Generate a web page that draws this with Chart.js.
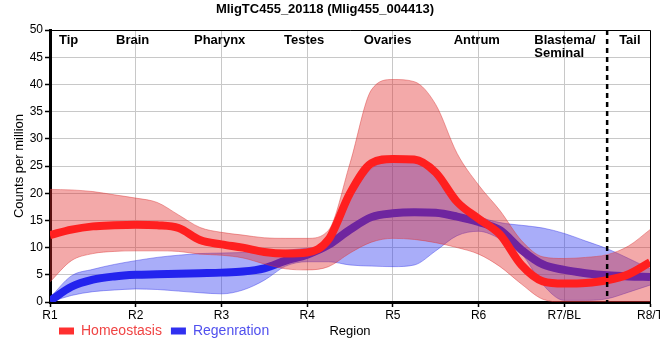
<!DOCTYPE html>
<html>
<head>
<meta charset="utf-8">
<script src="https://cdn.jsdelivr.net/npm/chart.js@4.4.1/dist/chart.umd.min.js"></script>
<style>
  html, body { margin: 0; padding: 0; background: #fff; overflow: hidden; }
  #wrap { width: 680px; height: 360px; }
</style>
</head>
<body>
<div id="wrap"><canvas id="chart"></canvas></div>
<script>
// readings taken every quarter region along the body axis (R1 = 1 ... R8/T = 8)
const positions = [1, 1.25, 1.5, 1.75, 2, 2.25, 2.5, 2.75, 3, 3.25, 3.5, 3.75, 4, 4.25, 4.5,
  4.75, 5, 5.25, 5.5, 5.75, 6, 6.25, 6.5, 6.75, 7, 7.25, 7.5, 7.75, 8];

const regionTicks = ["R1", "R2", "R3", "R4", "R5", "R6", "R7/BL", "R8/T"];

const homMean = [12.3, 13.3, 13.9, 14.1, 14.2, 14.1, 13.6, 11.4, 10.6, 10.0, 9.2, 8.9, 9.1, 11.5, 20.0,
  25.5, 26.3, 26.2, 23.8, 18.4, 15.3, 12.4, 6.8, 3.8, 3.4, 3.5, 4.0, 5.1, 7.3];
const homHigh = [20.7, 20.6, 20.3, 19.7, 19.1, 18.3, 16.0, 13.7, 12.8, 12.3, 11.8, 11.7, 11.7, 13.2, 25.5,
  39.0, 40.9, 40.5, 36.3, 27.3, 21.5, 16.8, 11.3, 8.3, 8.0, 8.2, 8.7, 10.3, 13.3];
const homLow = [3.7, 7.6, 8.9, 9.3, 9.4, 9.4, 9.3, 8.8, 8.6, 8.1, 7.0, 6.1, 5.9, 6.5, 9.0,
  11.0, 11.7, 11.5, 10.9, 10.0, 8.8, 6.5, 3.3, 0.5, 0, 0, 0, 0, 0];

const regMean = [0.2, 2.8, 4.1, 4.7, 5.0, 5.1, 5.2, 5.3, 5.4, 5.6, 6.2, 7.6, 8.7, 10.5, 13.3,
  15.6, 16.3, 16.5, 16.4, 15.7, 14.7, 13.2, 9.6, 6.9, 5.9, 5.3, 4.9, 4.7, 4.6];
const regHigh = [0.8, 4.8, 6.0, 6.9, 7.6, 8.2, 8.6, 8.9, 9.0, 9.1, 9.2, 9.5, 9.9, 10.8, 19.0,
  24.5, 25.8, 25.6, 23.2, 18.6, 15.8, 14.6, 14.1, 13.6, 12.6, 11.2, 9.8, 8.0, 6.1];
const regLow = [0, 1.2, 1.9, 2.2, 2.4, 2.3, 2.0, 1.7, 1.5, 2.2, 4.0, 6.6, 7.4, 7.4, 6.8,
  6.6, 6.5, 6.8, 9.4, 12.2, 13.0, 11.6, 8.9, 3.2, 0.3, 0.3, 0.6, 1.8, 3.1];

const tissueNames = ["Tip", "Brain", "Pharynx", "Testes", "Ovaries", "Antrum", "Blastema/\nSeminal", "Tail"];
const tissueAt = [1.105, 1.77, 2.68, 3.73, 4.66, 5.71, 6.65, 7.64];
const tailBoundary = 7.5;

const FONT = "'Liberation Sans', Arial, sans-serif";

function pts(values) {
  return positions.map((x, i) => ({ x, y: values[i] }));
}

function line(label, values, color, order) {
  return {
    label,
    data: pts(values),
    borderColor: color,
    borderWidth: 8,
    pointRadius: 0,
    fill: false,
    cubicInterpolationMode: "monotone",
    clip: 0,
    order,
  };
}

function band(label, values, fill, edge, order, target) {
  return {
    label,
    data: pts(values),
    borderColor: edge,
    borderWidth: 1,
    backgroundColor: fill,
    pointRadius: 0,
    fill: target,
    cubicInterpolationMode: "monotone",
    clip: 0,
    order,
  };
}

const annotations = {
  id: "annotations",
  afterLayout(chart) {
    // pull the legend up onto the same row as the axis title
    chart.legend.top -= 9;
    chart.legend.bottom -= 9;
  },
  afterDatasetsDraw(chart) {
    const { ctx, chartArea, scales } = chart;
    ctx.save();

    // boundary before the tail
    const bx = scales.x.getPixelForValue(tailBoundary);
    ctx.strokeStyle = "#000";
    ctx.lineWidth = 2.5;
    ctx.setLineDash([5, 4]);
    ctx.beginPath();
    ctx.moveTo(bx, chartArea.top);
    ctx.lineTo(bx, chartArea.bottom);
    ctx.stroke();
    ctx.setLineDash([]);

    // tissue names along the top
    ctx.fillStyle = "#000";
    ctx.font = `bold 13px ${FONT}`;
    ctx.textAlign = "left";
    ctx.textBaseline = "middle";
    tissueNames.forEach((name, i) => {
      const x = scales.x.getPixelForValue(tissueAt[i]);
      name.split("\n").forEach((part, j) => {
        ctx.fillText(part, x, chartArea.top + 10 + j * 13);
      });
    });

    // frame top/right
    ctx.strokeStyle = "#000";
    ctx.lineWidth = 1;
    ctx.beginPath();
    ctx.moveTo(chartArea.left, chartArea.top + 0.5);
    ctx.lineTo(chartArea.right + 0.5, chartArea.top + 0.5);
    ctx.lineTo(chartArea.right + 0.5, chartArea.bottom);
    ctx.stroke();

    // x axis title sits on the legend row
    const lg = chart.legend;
    ctx.font = `13px ${FONT}`;
    ctx.textAlign = "center";
    ctx.fillText("Region", (chartArea.left + chartArea.right) / 2, lg.top + lg.height / 2);
    ctx.restore();
  },
};

new Chart(document.getElementById("chart"), {
  type: "line",
  data: {
    datasets: [
      line("Homeostasis", homMean, "#ff1f1f", 0),
      band("Homeostasis high", homHigh, "rgba(225,40,40,0.4)", "rgba(220,60,60,0.45)", 1, "+1"),
      band("Homeostasis low", homLow, "rgba(225,40,40,0.4)", "rgba(220,60,60,0.45)", 1, false),
      line("Regenration", regMean, "#2323ee", 2),
      band("Regenration high", regHigh, "rgba(40,50,240,0.4)", "rgba(60,60,230,0.45)", 3, "+1"),
      band("Regenration low", regLow, "rgba(40,50,240,0.4)", "rgba(60,60,230,0.45)", 3, false),
    ],
  },
  options: {
    responsive: true,
    maintainAspectRatio: false,
    animation: false,
    layout: { padding: { left: 0, right: 30, top: 0, bottom: 3 } },
    plugins: {
      title: {
        display: true,
        text: "MligTC455_20118 (Mlig455_004413)",
        color: "#000",
        font: { family: FONT, size: 13, weight: "bold" },
        padding: { top: 2, bottom: 12.4 },
      },
      legend: {
        position: "bottom",
        align: "start",
        fullSize: false,
        labels: {
          boxWidth: 15,
          boxHeight: 7,
          padding: 9,
          font: { family: FONT, size: 14 },
          generateLabels() {
            return [
              { text: "Homeostasis", fillStyle: "#ff3030", strokeStyle: "#ff3030", lineWidth: 0, fontColor: "#f04444", datasetIndex: 0 },
              { text: "Regenration", fillStyle: "#3030f0", strokeStyle: "#3030f0", lineWidth: 0, fontColor: "#5050ee", datasetIndex: 3 },
            ];
          },
        },
      },
      tooltip: { enabled: false },
    },
    scales: {
      x: {
        type: "linear",
        min: 1,
        max: 8,
        afterFit(scale) { scale.height = 22; },
        ticks: {
          stepSize: 1,
          color: "#000",
          padding: 1,
          maxRotation: 0,
          font: { family: FONT, size: 12 },
          callback: (v) => regionTicks[v - 1] || "",
        },
        grid: { color: "#c8c8c8", tickColor: "#000", tickLength: 5, tickWidth: 1.5 },
        border: { color: "#000", width: 3 },
      },
      y: {
        min: 0,
        max: 50,
        afterFit(scale) { scale.width = 50; },
        ticks: {
          stepSize: 5,
          color: "#000",
          padding: 2,
          font: { family: FONT, size: 12 },
        },
        title: {
          display: true,
          text: "Counts per million",
          color: "#000",
          padding: { top: 12, bottom: 0 },
          font: { family: FONT, size: 13 },
        },
        grid: { color: "#c8c8c8", tickColor: "#000", tickLength: 5, tickWidth: 1.5 },
        border: { color: "#000", width: 3 },
      },
    },
  },
  plugins: [annotations],
});
</script>
</body>
</html>
